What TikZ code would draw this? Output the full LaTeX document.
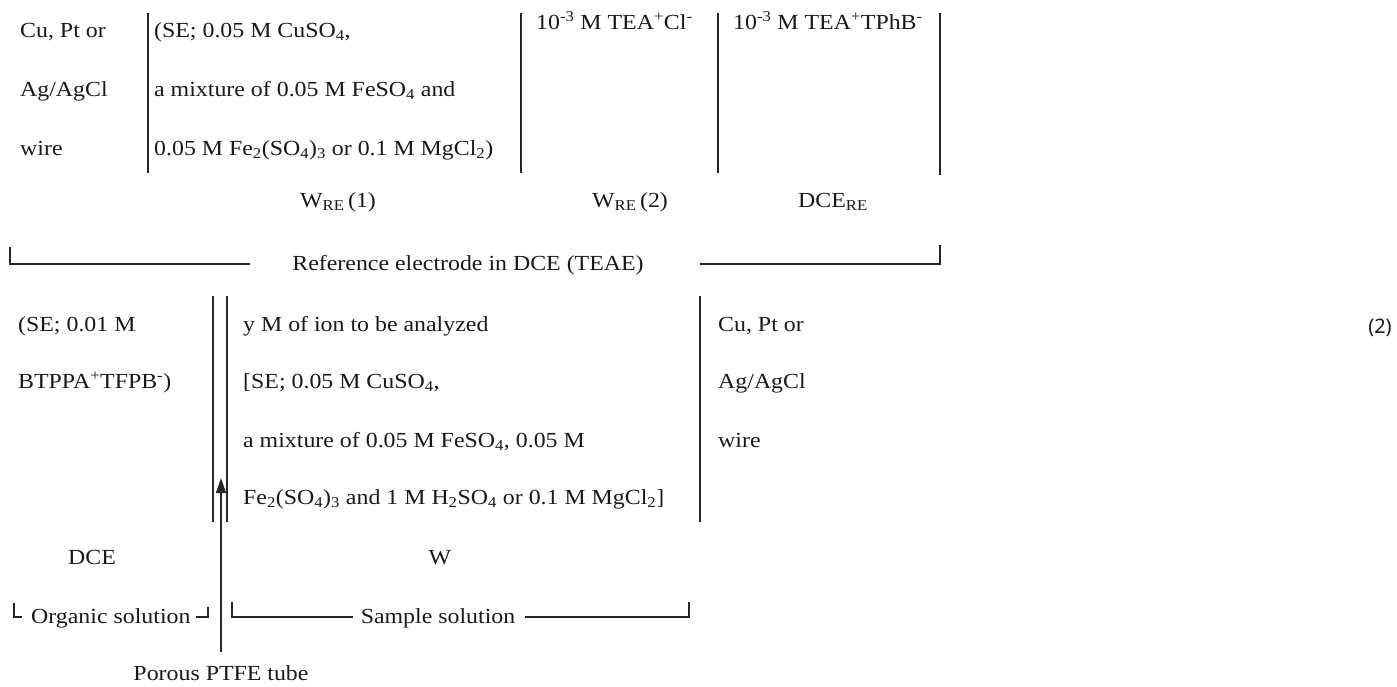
\documentclass[tikz,border=0pt]{standalone}
\usepackage{fontspec}
\setmainfont{Liberation Serif}[FakeStretch=1.11]
\newfontfamily\eqfont{Noto Sans}
\usetikzlibrary{arrows.meta}
\begin{document}
\begin{tikzpicture}[x=1pt,y=-1pt,
  txt/.style={font=\fontsize{21.5}{26}\selectfont, inner sep=0pt, anchor=base west, text=black!90},
  ctxt/.style={txt, anchor=base},
  rule/.style={line width=1.3pt, draw=black!85}]
\useasboundingbox (0,0) rectangle (1397,686);

% ---------- top row: reference electrode ----------
\node[txt] (cu1) at (20,37) {Cu, Pt or};
\node[txt] (ag1) at (20,96) {Ag/AgCl};
\node[txt] (wi1) at (20,155) {wire};
\node[txt] (se1) at (154,37) {(SE; 0.05 M CuSO\textsubscript{4},};
\node[txt] (mx1) at (154,96) {a mixture of 0.05 M FeSO\textsubscript{4} and};
\node[txt] (fe1) at (154,155) {0.05 M Fe\textsubscript{2}(SO\textsubscript{4})\textsubscript{3} or 0.1 M MgCl\textsubscript{2})};
\node[txt] (tea1) at (536,29) {10\textsuperscript{-3} M TEA\textsuperscript{+}Cl\textsuperscript{-}};
\node[txt] (tea2) at (733,29) {10\textsuperscript{-3} M TEA\textsuperscript{+}TPhB\textsuperscript{-}};

\coordinate (v1t) at (148,13); \coordinate (v1b) at (148,173);
\coordinate (v2t) at (521,13); \coordinate (v2b) at (521,173);
\coordinate (v3t) at (718,13); \coordinate (v3b) at (718,173);
\coordinate (v4t) at (940,13); \coordinate (v4b) at (940,175);
\draw[rule] (v1t) -- (v1b);
\draw[rule] (v2t) -- (v2b);
\draw[rule] (v3t) -- (v3b);
\draw[rule] (v4t) -- (v4b);

\node[ctxt] (wre1) at (338,207) {W\textsubscript{RE}\,(1)};
\node[ctxt] (wre2) at (630,207) {W\textsubscript{RE}\,(2)};
\node[ctxt] (dcere) at (833,207) {DCE\textsubscript{RE}};

\node[ctxt] (ref) at (468,270) {Reference electrode in DCE (TEAE)};
\coordinate (rL0) at (10,247); \coordinate (rL1) at (250,264);
\coordinate (rR0) at (700,264); \coordinate (rR1) at (940,245);
\draw[rule] (rL0) |- (rL1);
\draw[rule] (rR0) -| (rR1);

% ---------- bottom row: cell ----------
\node[txt] (se2) at (18,331) {(SE; 0.01 M};
\node[txt] (bt) at (18,388) {BTPPA\textsuperscript{+}TFPB\textsuperscript{-})};
\node[txt] (ym) at (243,331) {y M of ion to be analyzed};
\node[txt] (se3) at (243,388) {[SE; 0.05 M CuSO\textsubscript{4},};
\node[txt] (mx2) at (243,447) {a mixture of 0.05 M FeSO\textsubscript{4}, 0.05 M};
\node[txt] (fe2) at (243,504) {Fe\textsubscript{2}(SO\textsubscript{4})\textsubscript{3} and 1 M H\textsubscript{2}SO\textsubscript{4} or 0.1 M MgCl\textsubscript{2}]};
\node[txt] (cu2) at (718,331) {Cu, Pt or};
\node[txt] (ag2) at (718,388) {Ag/AgCl};
\node[txt] (wi2) at (718,447) {wire};

\coordinate (d1t) at (213,296); \coordinate (d1b) at (213,522);
\coordinate (d2t) at (227,296); \coordinate (d2b) at (227,522);
\coordinate (v5t) at (700,296); \coordinate (v5b) at (700,522);
\draw[rule] (d1t) -- (d1b);
\draw[rule] (d2t) -- (d2b);
\draw[rule] (v5t) -- (v5b);

\node[ctxt] (dce) at (92,564) {DCE};
\node[ctxt] (w) at (440,564) {W};

\node[txt] (org) at (31,623) {Organic solution};
\node[ctxt] (smp) at (438,623) {Sample solution};
\coordinate (oL0) at (14,603); \coordinate (oL1) at (22,617);
\coordinate (oR0) at (196,617); \coordinate (oR1) at (208,607);
\coordinate (sL0) at (232,602); \coordinate (sL1) at (353,617);
\coordinate (sR0) at (525,617); \coordinate (sR1) at (689,602);
\draw[rule] (oL0) |- (oL1);
\draw[rule] (oR0) -| (oR1);
\draw[rule] (sL0) |- (sL1);
\draw[rule] (sR0) -| (sR1);

\node[ctxt] (ptfe) at (221,680) {Porous PTFE tube};
\coordinate (arrS) at (221,652); \coordinate (arrT) at (221,478);
\draw[rule, -{Triangle[width=10pt,length=15pt]}] (arrS) -- (arrT);

\node[font=\eqfont\fontsize{20}{24}\selectfont, inner sep=0pt, anchor=base, text=black!90] (eq) at (1380,333) {(2)};
\end{tikzpicture}
\end{document}
